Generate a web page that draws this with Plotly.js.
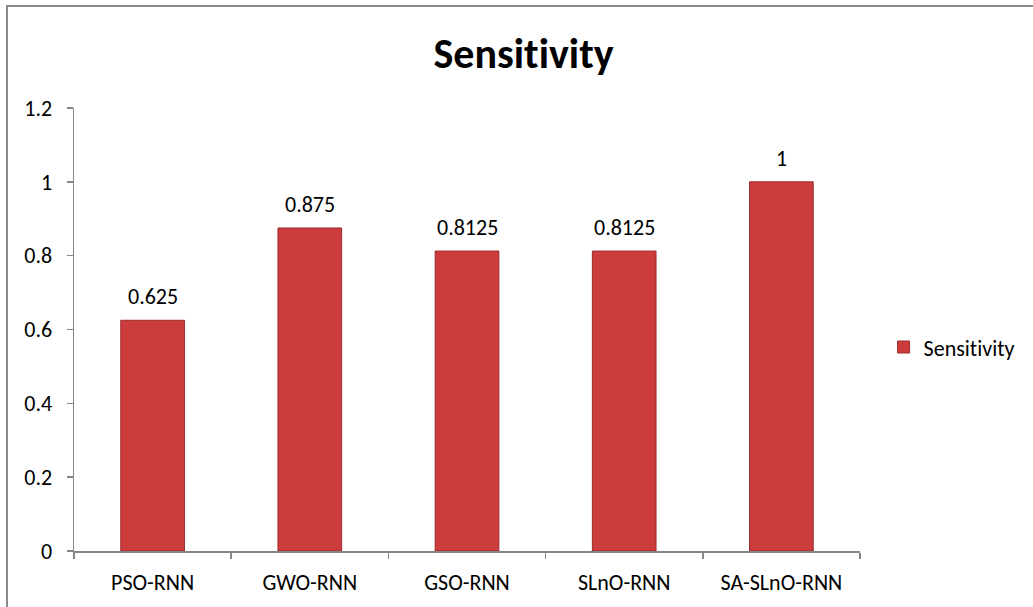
<!DOCTYPE html>
<html>
<head>
<meta charset="utf-8">
<script src="https://cdn.plot.ly/plotly-3.0.1.min.js"></script>
<style>
html,body{margin:0;padding:0;background:#fff;}
#wrap{position:relative;width:1033px;height:607px;}
#chart{width:1033px;height:607px;}
#frame{position:absolute;left:6px;top:5px;width:1040px;height:700px;border-left:2px solid #8a8a8a;border-top:2px solid #8a8a8a;pointer-events:none;}
svg text{font-variant-ligatures:none !important;font-feature-settings:"liga" 0, "clig" 0 !important;}
</style>
</head>
<body>
<div id="wrap"><div id="chart"></div><div id="frame"></div></div>
<script>
const categories = ["PSO-RNN", "GWO-RNN", "GSO-RNN", "SLnO-RNN", "SA-SLnO-RNN"];
const sensitivity = [0.625, 0.875, 0.8125, 0.8125, 1];
const labels = ["0.625", "0.875", "0.8125", "0.8125", "1"];
const yTicks = [0, 0.2, 0.4, 0.6, 0.8, 1, 1.2];
const yTickText = ["0", "0.2", "0.4", "0.6", "0.8", "1", "1.2"];

const FONT = "Carlito, Calibri, Lato, 'Open Sans', sans-serif";

const trace = {
  type: "bar",
  name: "Sensitivity",
  x: categories,
  y: sensitivity,
  marker: {color: "#cd3c3c", line: {color: "#9a2a2a", width: 1}},
  hoverinfo: "skip"
};

const annotations = categories.map((c, i) => ({
  x: c, y: sensitivity[i], xref: "x", yref: "y",
  text: labels[i], showarrow: false, yanchor: "bottom", yshift: 8,
  font: {family: FONT, size: 22, color: "#000"}
}));

const layout = {
  width: 1033, height: 607,
  margin: {l: 74, r: 170, t: 108, b: 56},
  paper_bgcolor: "#fff", plot_bgcolor: "#fff",
  font: {family: FONT, size: 22, color: "#000"},
  title: {text: "<b>Sensitivity</b>", font: {family: FONT, size: 42, color: "#000"},
          x: 0.572, xref: "paper", xanchor: "center", y: 0.912, yanchor: "middle"},
  bargap: 0.595,
  showlegend: true,
  legend: {x: 1.03, xanchor: "left", y: 0.46, yanchor: "middle",
           font: {family: FONT, size: 22, color: "#000"}, bgcolor: "rgba(0,0,0,0)"},
  xaxis: {
    type: "category", showgrid: false, zeroline: false,
    showline: true, linecolor: "#868686", linewidth: 1.5,
    ticks: "outside", tickson: "boundaries", ticklen: 6, tickcolor: "#868686", tickwidth: 1.5,
    ticklabelstandoff: 11,
    tickfont: {family: FONT, size: 22, color: "#000"}
  },
  yaxis: {
    range: [0, 1.2], showgrid: false, zeroline: false,
    showline: true, linecolor: "#868686", linewidth: 1.5,
    ticks: "outside", ticklen: 6, tickcolor: "#868686", tickwidth: 1.5,
    tickmode: "array", tickvals: yTicks, ticktext: yTickText,
    ticklabelstandoff: 10,
    tickfont: {family: FONT, size: 22, color: "#000"}
  },
  annotations: annotations
};

Plotly.newPlot("chart", [trace], layout, {staticPlot: true, displayModeBar: false});
</script>
</body>
</html>
